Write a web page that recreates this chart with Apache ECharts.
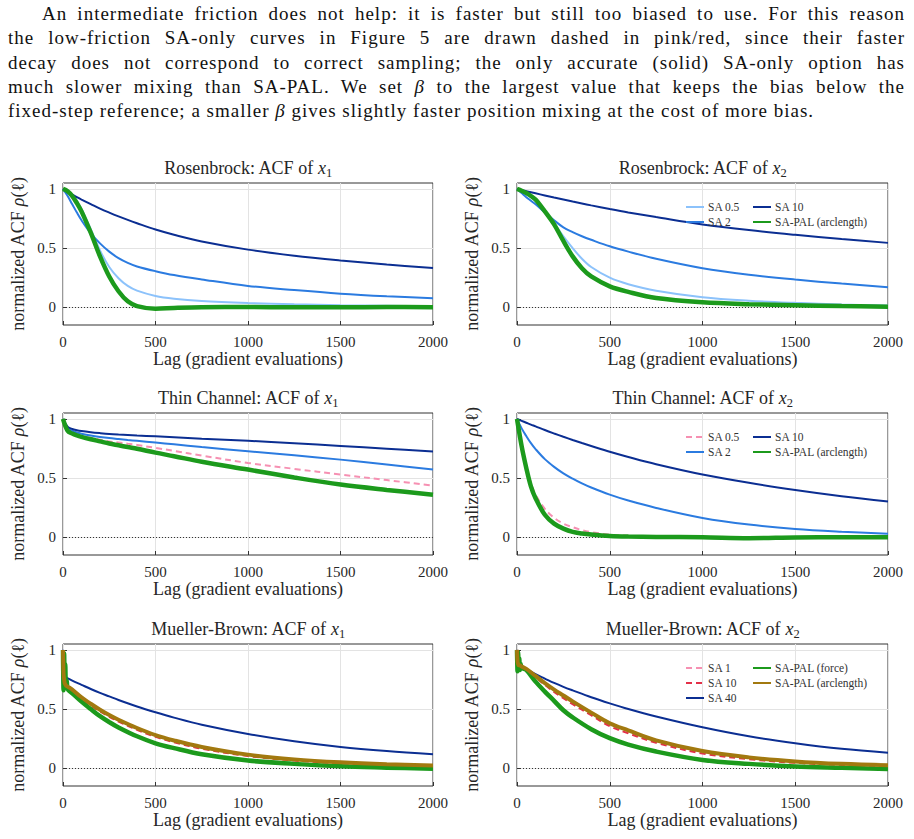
<!DOCTYPE html>
<html>
<head>
<meta charset="utf-8">
<script src="https://cdn.jsdelivr.net/npm/echarts@6/dist/echarts.min.js"></script>
<style>
  html, body { margin: 0; padding: 0; background: #fff; }
  #chart { position: absolute; left: 0; top: 0; width: 914px; height: 839px; }
  #para {
    position: absolute; left: 8px; top: 2px; width: 897px; z-index: 2;
    font-family: 'Liberation Serif', serif; font-size: 19px; letter-spacing: 1px;
    line-height: 24.3px; color: #111;
  }
  #para div { text-align: justify; text-align-last: justify; }
  #para div.first { padding-left: 34px; }
  #para div.last { text-align-last: left; }
</style>
</head>
<body>
<div id="chart"></div>
<div id="para">
  <div class="first">An intermediate friction does not help: it is faster but still too biased to use. For this reason</div>
  <div>the low-friction SA-only curves in Figure 5 are drawn dashed in pink/red, since their faster</div>
  <div>decay does not correspond to correct sampling; the only accurate (solid) SA-only option has</div>
  <div>much slower mixing than SA-PAL. We set <i>β</i> to the largest value that keeps the bias below the</div>
  <div class="last">fixed-step reference; a smaller <i>β</i> gives slightly faster position mixing at the cost of more bias.</div>
</div>
<script>
(function() {
  // --- data (lag in gradient evaluations, normalized ACF) ---
  var lags = [0, 25, 50, 75, 100, 150, 200, 250, 300, 350, 400, 500, 600, 750, 1000, 1250, 1500, 1750, 2000];
  var mbLags = [0, 3, 6, 9, 12, 16, 20, 25, 50, 100, 150, 200, 250, 300, 400, 500, 600, 750, 1000, 1250, 1500, 1750, 2000];

  // Rosenbrock x1
  var rosX1Sa05 = [1, 0.985, 0.95, 0.9, 0.83, 0.66, 0.48, 0.34, 0.245, 0.18, 0.14, 0.095, 0.072, 0.053, 0.036, 0.025, 0.017, 0.012, 0.008];
  var rosX1Sa2  = [1, 0.94, 0.87, 0.8, 0.735, 0.625, 0.54, 0.47, 0.415, 0.375, 0.345, 0.305, 0.272, 0.235, 0.18, 0.145, 0.115, 0.093, 0.076];
  var rosX1Sa10 = [1, 0.975, 0.952, 0.93, 0.91, 0.872, 0.834, 0.8, 0.768, 0.738, 0.71, 0.657, 0.613, 0.556, 0.487, 0.435, 0.395, 0.361, 0.332];
  var rosX1Pal  = [1, 0.98, 0.94, 0.88, 0.81, 0.63, 0.43, 0.26, 0.135, 0.05, 0.01, -0.012, -0.006, 0, 0.002, 0, 0, 0.002, 0];

  // Rosenbrock x2
  var rosX2Sa05 = [1, 0.985, 0.96, 0.93, 0.9, 0.81, 0.71, 0.6, 0.5, 0.41, 0.34, 0.25, 0.195, 0.14, 0.085, 0.055, 0.037, 0.024, 0.014];
  var rosX2Sa2  = [1, 0.965, 0.93, 0.9, 0.87, 0.8, 0.735, 0.675, 0.635, 0.6, 0.57, 0.515, 0.47, 0.41, 0.33, 0.275, 0.234, 0.2, 0.17];
  var rosX2Sa10 = [1, 0.99, 0.981, 0.972, 0.963, 0.945, 0.927, 0.91, 0.893, 0.877, 0.861, 0.83, 0.801, 0.762, 0.7, 0.652, 0.612, 0.576, 0.544];
  var rosX2Pal  = [1, 0.985, 0.965, 0.94, 0.91, 0.81, 0.7, 0.56, 0.43, 0.33, 0.26, 0.177, 0.13, 0.078, 0.042, 0.026, 0.017, 0.01, 0.005];

  // Thin Channel x1
  var tcX1Sa05 = [0.97, 0.9, 0.88, 0.866, 0.855, 0.84, 0.825, 0.81, 0.8, 0.79, 0.78, 0.755, 0.73, 0.69, 0.628, 0.578, 0.53, 0.483, 0.437];
  var tcX1Sa2  = [0.99, 0.92, 0.9, 0.885, 0.875, 0.86, 0.848, 0.838, 0.83, 0.822, 0.815, 0.8, 0.785, 0.762, 0.727, 0.692, 0.656, 0.614, 0.572];
  var tcX1Sa10 = [1, 0.935, 0.915, 0.905, 0.898, 0.888, 0.88, 0.873, 0.868, 0.864, 0.86, 0.853, 0.845, 0.832, 0.815, 0.795, 0.772, 0.748, 0.724];
  var tcX1Pal  = [1, 0.9, 0.876, 0.86, 0.848, 0.828, 0.81, 0.792, 0.777, 0.762, 0.748, 0.715, 0.685, 0.638, 0.572, 0.505, 0.445, 0.4, 0.36];

  // Thin Channel x2
  var tcX2Sa05 = [1, 0.78, 0.6, 0.46, 0.36, 0.24, 0.165, 0.115, 0.085, 0.06, 0.043, 0.022, 0.012, 0.006, 0.002, 0, 0, 0, 0];
  var tcX2Sa2  = [1, 0.92, 0.855, 0.795, 0.745, 0.66, 0.595, 0.54, 0.495, 0.455, 0.42, 0.36, 0.31, 0.248, 0.163, 0.107, 0.07, 0.047, 0.03];
  var tcX2Sa10 = [1, 0.984, 0.968, 0.952, 0.937, 0.906, 0.877, 0.849, 0.822, 0.796, 0.771, 0.722, 0.678, 0.617, 0.53, 0.46, 0.4, 0.347, 0.302];
  var tcX2Pal  = [1, 0.77, 0.586, 0.43, 0.33, 0.19, 0.115, 0.073, 0.045, 0.032, 0.023, 0.011, 0.006, 0.003, 0, -0.008, -0.002, 0, 0];

  // Mueller-Brown x1
  var mbX1Sa1   = [1, 0.8, 0.74, 0.71, 0.7, 0.69, 0.685, 0.68, 0.655, 0.59, 0.535, 0.485, 0.44, 0.4, 0.33, 0.27, 0.225, 0.17, 0.107, 0.068, 0.044, 0.03, 0.02];
  var mbX1Sa10  = [1, 0.79, 0.73, 0.705, 0.695, 0.685, 0.68, 0.675, 0.65, 0.585, 0.53, 0.48, 0.435, 0.395, 0.325, 0.265, 0.22, 0.165, 0.103, 0.065, 0.042, 0.028, 0.019];
  var mbX1Sa40  = [1, 0.9, 0.83, 0.8, 0.785, 0.775, 0.765, 0.76, 0.74, 0.705, 0.67, 0.637, 0.607, 0.577, 0.522, 0.473, 0.428, 0.368, 0.29, 0.228, 0.18, 0.145, 0.118];
  var mbX1Force = [1, 0.66, 0.97, 0.7, 0.88, 0.68, 0.74, 0.67, 0.634, 0.563, 0.5, 0.44, 0.39, 0.345, 0.27, 0.211, 0.17, 0.118, 0.065, 0.037, 0.016, 0.005, -0.004];
  var mbX1Arc   = [1, 0.8, 0.75, 0.72, 0.71, 0.7, 0.695, 0.69, 0.665, 0.6, 0.545, 0.495, 0.45, 0.41, 0.34, 0.28, 0.235, 0.18, 0.115, 0.075, 0.05, 0.034, 0.024];

  // Mueller-Brown x2
  var mbX2Sa1   = [1, 0.89, 0.875, 0.865, 0.865, 0.862, 0.858, 0.855, 0.835, 0.775, 0.712, 0.655, 0.602, 0.552, 0.458, 0.365, 0.305, 0.225, 0.135, 0.085, 0.052, 0.033, 0.022];
  var mbX2Sa10  = [1, 0.88, 0.87, 0.86, 0.86, 0.858, 0.855, 0.85, 0.83, 0.768, 0.705, 0.645, 0.592, 0.542, 0.448, 0.355, 0.295, 0.215, 0.125, 0.077, 0.046, 0.028, 0.018];
  var mbX2Sa40  = [1, 0.93, 0.9, 0.885, 0.875, 0.87, 0.865, 0.86, 0.838, 0.795, 0.758, 0.721, 0.688, 0.658, 0.6, 0.548, 0.5, 0.437, 0.346, 0.27, 0.212, 0.165, 0.132];
  var mbX2Force = [1, 0.82, 0.98, 0.84, 0.93, 0.83, 0.88, 0.85, 0.83, 0.732, 0.648, 0.57, 0.49, 0.43, 0.33, 0.254, 0.2, 0.141, 0.07, 0.037, 0.015, 0.004, -0.006];
  var mbX2Arc   = [1, 0.9, 0.88, 0.87, 0.87, 0.87, 0.865, 0.86, 0.84, 0.78, 0.72, 0.665, 0.615, 0.565, 0.47, 0.38, 0.32, 0.235, 0.145, 0.092, 0.058, 0.037, 0.025];

  var yTicks = [0, 0.5, 1];

  // --- style ---
  var serif = "'Liberation Serif', 'DejaVu Serif', serif";
  var ink = '#262626';
  var lightBlue = '#8cc2fb';
  var midBlue = '#2b7be0';
  var navy = '#0b2e92';
  var green = '#1c9a1c';
  var brown = '#a2790f';
  var pink = '#f690b2';
  var red = '#e33048';

  function pairs(xs, ys) {
    return xs.map(function(x, i) { return [x, ys[i]]; });
  }

  function curve(label, xs, ys, color, width, dashed) {
    return { label: label, data: pairs(xs, ys), color: color, width: width, dashed: dashed };
  }

  var panels = [
    { name: 'Rosenbrock', sub: '1', curves: [
      curve('SA 0.5', lags, rosX1Sa05, lightBlue, 2),
      curve('SA 2', lags, rosX1Sa2, midBlue, 2),
      curve('SA 10', lags, rosX1Sa10, navy, 2),
      curve('SA-PAL (arclength)', lags, rosX1Pal, green, 4.5)
    ] },
    { name: 'Rosenbrock', sub: '2', legend: [[0, 1], [2, 3]], curves: [
      curve('SA 0.5', lags, rosX2Sa05, lightBlue, 2),
      curve('SA 2', lags, rosX2Sa2, midBlue, 2),
      curve('SA 10', lags, rosX2Sa10, navy, 2),
      curve('SA-PAL (arclength)', lags, rosX2Pal, green, 4.5)
    ] },
    { name: 'Thin Channel', sub: '1', curves: [
      curve('SA 0.5', lags, tcX1Sa05, pink, 2, true),
      curve('SA 2', lags, tcX1Sa2, midBlue, 2),
      curve('SA 10', lags, tcX1Sa10, navy, 2),
      curve('SA-PAL (arclength)', lags, tcX1Pal, green, 4.5)
    ] },
    { name: 'Thin Channel', sub: '2', legend: [[0, 1], [2, 3]], curves: [
      curve('SA 0.5', lags, tcX2Sa05, pink, 2, true),
      curve('SA 2', lags, tcX2Sa2, midBlue, 2),
      curve('SA 10', lags, tcX2Sa10, navy, 2),
      curve('SA-PAL (arclength)', lags, tcX2Pal, green, 4.5)
    ] },
    { name: 'Mueller-Brown', sub: '1', curves: [
      curve('SA 1', mbLags, mbX1Sa1, pink, 2, true),
      curve('SA 10', mbLags, mbX1Sa10, red, 2, true),
      curve('SA 40', mbLags, mbX1Sa40, navy, 2),
      curve('SA-PAL (force)', mbLags, mbX1Force, green, 4.5),
      curve('SA-PAL (arclength)', mbLags, mbX1Arc, brown, 4)
    ] },
    { name: 'Mueller-Brown', sub: '2', legend: [[0, 1, 2], [3, 4]], curves: [
      curve('SA 1', mbLags, mbX2Sa1, pink, 2, true),
      curve('SA 10', mbLags, mbX2Sa10, red, 2, true),
      curve('SA 40', mbLags, mbX2Sa40, navy, 2),
      curve('SA-PAL (force)', mbLags, mbX2Force, green, 4.5),
      curve('SA-PAL (arclength)', mbLags, mbX2Arc, brown, 4)
    ] }
  ];

  // --- layout ---
  var colLeft = [63, 517];
  var colWidth = [370, 371];
  var rowTop = [183, 413, 644];
  var gridHeight = 142;
  var legendLeft = [683, 750];
  var nameSize = 18;

  var grids = [], xAxes = [], yAxes = [], titles = [], series = [], legends = [];

  panels.forEach(function(p, k) {
    var col = k % 2, row = Math.floor(k / 2);
    grids.push({
      left: colLeft[col], top: rowTop[row], width: colWidth[col], height: gridHeight,
      show: true, borderColor: '#333', borderWidth: 1, backgroundColor: 'transparent'
    });
    xAxes.push({
      type: 'value', gridIndex: k, min: 0, max: 2000, interval: 500,
      name: 'Lag (gradient evaluations)', nameLocation: 'middle', nameGap: 25,
      nameTextStyle: { fontFamily: serif, fontSize: nameSize, color: ink },
      axisLine: { show: false, onZero: false },
      axisTick: { inside: true, length: 4, lineStyle: { color: '#333' } },
      axisLabel: {
        fontFamily: serif, fontSize: 15, color: ink, margin: 9, showMinLabel: true, showMaxLabel: true,
        formatter: function(v) { return String(v); }
      },
      splitLine: { lineStyle: { color: '#e3e3e3', width: 1 } }
    });
    yAxes.push({
      type: 'value', gridIndex: k, min: -0.15, max: 1.05,
      name: 'normalized ACF {i|ρ}(ℓ)', nameLocation: 'middle', nameGap: 36,
      nameTextStyle: { fontFamily: serif, fontSize: nameSize, color: ink,
        rich: { i: { fontFamily: serif, fontSize: nameSize, fontStyle: 'italic', color: ink } } },
      axisLine: { show: false },
      axisTick: { inside: true, length: 4, customValues: yTicks, lineStyle: { color: '#333' } },
      axisLabel: { fontFamily: serif, fontSize: 15, color: ink, margin: 7, customValues: yTicks },
      splitLine: { lineStyle: { color: '#e3e3e3', width: 1 } }
    });
    titles.push({
      text: '{a|' + p.name + ': ACF of }{i|x}{s|' + p.sub + '}',
      left: colLeft[col] + colWidth[col] / 2, top: rowTop[row] - 15,
      textAlign: 'center', textVerticalAlign: 'middle', padding: 0,
      textStyle: {
        fontWeight: 'normal',
        rich: {
          a: { fontFamily: serif, fontSize: nameSize, fontWeight: 'normal', color: ink, lineHeight: 23 },
          i: { fontFamily: serif, fontSize: nameSize, fontWeight: 'normal', fontStyle: 'italic', color: ink, lineHeight: 23 },
          s: { fontFamily: serif, fontSize: 12.5, fontWeight: 'normal', color: ink, lineHeight: 23, verticalAlign: 'bottom' }
        }
      }
    });

    p.curves.forEach(function(c, j) {
      var s = {
        name: c.label + '#' + k,
        type: 'line', xAxisIndex: k, yAxisIndex: k,
        data: c.data,
        symbol: 'none', showSymbol: false,
        smooth: 0.35,
        lineStyle: { color: c.color, width: c.width, type: c.dashed ? [6, 4] : 'solid' },
        itemStyle: { color: c.color },
        emphasis: { disabled: true },
        animation: false
      };
      if (j === 0) {
        s.markLine = {
          silent: true, symbol: ['none', 'none'], z: 1,
          label: { show: false },
          lineStyle: { color: '#333', type: [1, 2], width: 1 },
          data: [{ yAxis: 0 }],
          animation: false
        };
      }
      series.push(s);
    });

    if (p.legend) {
      p.legend.forEach(function(colItems, ci) {
        legends.push({
          orient: 'vertical',
          left: legendLeft[ci], top: rowTop[row] + 16,
          padding: 2, itemGap: 3, itemWidth: 18, itemHeight: 8,
          selectedMode: false,
          itemStyle: { opacity: 0 },
          data: colItems.map(function(idx) { return p.curves[idx].label + '#' + k; }),
          formatter: function(n) { return n.split('#')[0]; },
          textStyle: { fontFamily: serif, fontSize: 11.5, lineHeight: 12, color: '#333', padding: [0, 0, 0, -1] }
        });
      });
    }
  });

  var chart = echarts.init(document.getElementById('chart'), null, { renderer: 'svg' });
  chart.setOption({
    backgroundColor: '#fff',
    animation: false,
    title: titles,
    legend: legends,
    grid: grids,
    xAxis: xAxes,
    yAxis: yAxes,
    series: series
  });

  window.addEventListener('resize', function() { chart.resize(); });
})();
</script>
</body>
</html>
